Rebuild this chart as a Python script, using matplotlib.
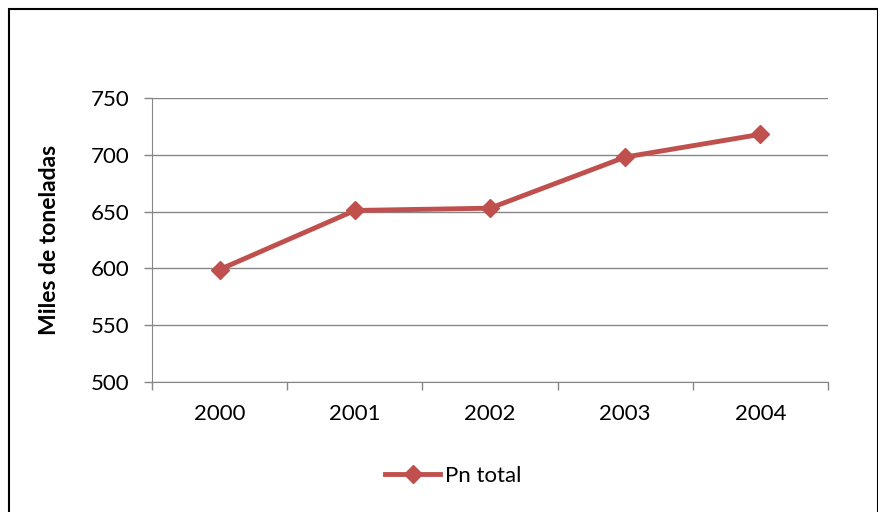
import matplotlib.pyplot as plt
from matplotlib.patches import Rectangle
from matplotlib.lines import Line2D

years = ["2000", "2001", "2002", "2003", "2004"]
pn_total = [599, 651, 653, 698, 718]
y_ticks = [500, 550, 600, 650, 700, 750]

plt.rcParams["font.family"] = ["Lato", "DejaVu Sans"]

fig = plt.figure(figsize=(8.79, 5.12), dpi=100)
ax = fig.add_axes([152 / 879, 1 - 382 / 512, 676 / 879, 284 / 512])

grid_c = "#868686"
red = "#C0504D"

x = list(range(len(years)))
ax.plot(x, pn_total, color=red, lw=3.5, marker="D", markersize=9.5, zorder=3)

ax.set_xlim(-0.5, len(years) - 0.5)
ax.set_ylim(500, 750)
ax.set_yticks(y_ticks)
ax.set_yticklabels([str(v) for v in y_ticks], fontsize=16)
ax.yaxis.grid(True, color=grid_c, lw=1)
ax.set_axisbelow(True)

# category labels centred, tick marks on the boundaries
ax.set_xticks([i - 0.5 for i in range(len(years) + 1)])
ax.set_xticklabels([])
ax.set_xticks(x, minor=True)
ax.set_xticklabels(years, minor=True, fontsize=16)
ax.tick_params(axis="x", which="major", length=6, color=grid_c, width=1)
ax.tick_params(axis="x", which="minor", length=0, pad=16)
ax.tick_params(axis="y", length=6, color=grid_c, width=1, pad=10)

for s in ["top", "right"]:
    ax.spines[s].set_visible(False)
for s in ["left", "bottom"]:
    ax.spines[s].set_color(grid_c)

ax.set_ylabel("Miles de toneladas", fontsize=16.5, fontweight="bold", labelpad=22)

handle = Line2D([], [], color=red, lw=3.5, marker="D", markersize=9.5)
fig.legend([handle], ["Pn total"], loc="center", bbox_to_anchor=(453 / 879, 1 - 476 / 512),
           frameon=False, fontsize=16, handlelength=2.5, handletextpad=0.2)

fig.patches.append(Rectangle((9 / 879, -0.01), 869 / 879, 1 - 9 / 512 + 0.01,
                             transform=fig.transFigure, fill=False, ec="black", lw=1.5))

fig.savefig("out.png", dpi=100)
